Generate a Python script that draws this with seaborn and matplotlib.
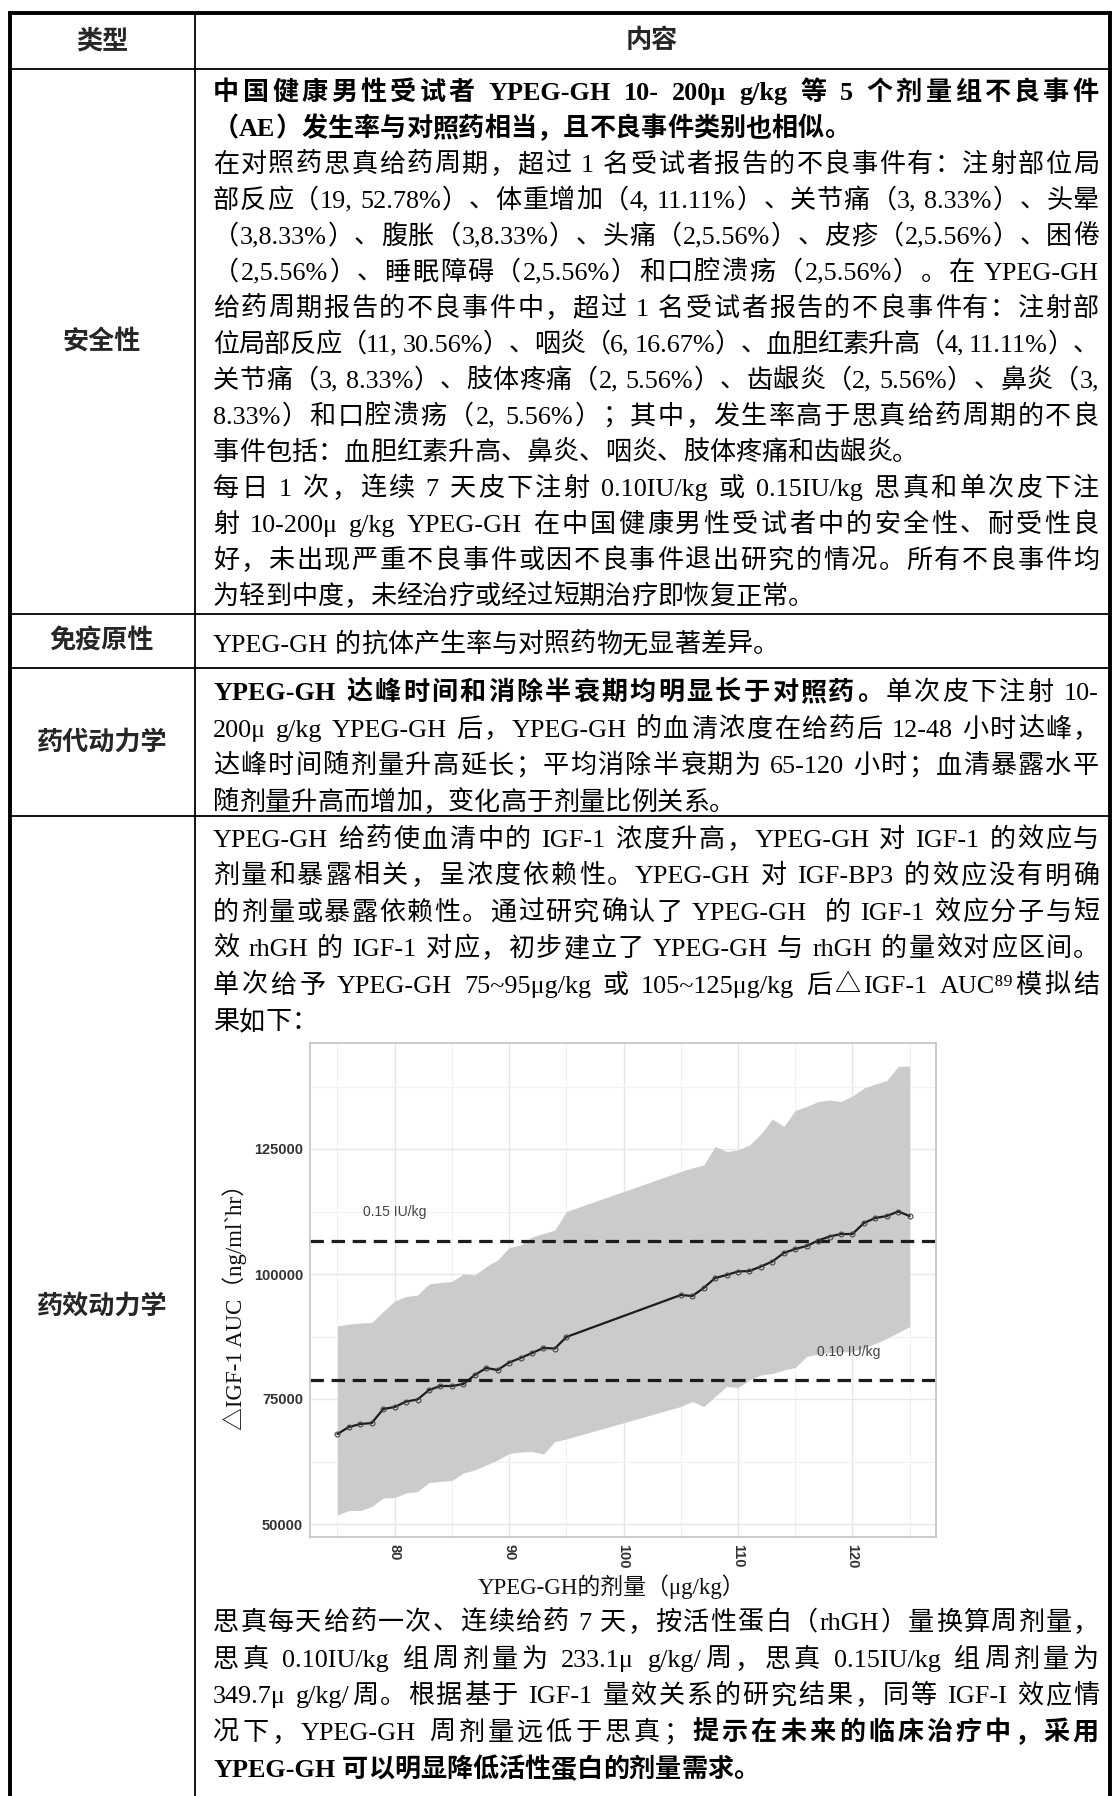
import re
import matplotlib
matplotlib.use("Agg")
import matplotlib.pyplot as plt
from matplotlib.font_manager import FontProperties
import seaborn as sns

# ---- 图表数据 ----
dose = [75, 76, 77, 78, 79, 80, 81, 82, 83, 84, 85, 86, 87, 88, 89, 90, 91, 92, 93, 94, 95,
        105, 106, 107, 108, 109, 110, 111, 112, 113, 114, 115, 116, 117, 118, 119, 120, 121, 122, 123, 124, 125]
auc_mean = [68000, 69400, 70000, 70200, 73000, 73400, 74500, 74900, 76800, 77600, 77600,
            78000, 79800, 81200, 80800, 82300, 83200, 84200, 85200, 85100, 87400,
            95800, 95600, 97200, 99200, 99800, 100500, 100600, 101500, 102500, 104200,
            105000, 105600, 106700, 107500, 108000, 108000, 110200, 111200, 111600, 112500, 111600]
auc_low = [51800, 52700, 52700, 53500, 55200, 55300, 56200, 56500, 58300, 58500, 58700,
           60200, 60800, 61800, 62800, 64100, 64400, 64500, 64000, 66500, 67000,
           73500, 74500, 73500, 75500, 77500, 77300, 78800, 79800, 80100, 80800,
           81300, 83500, 84000, 84300, 84400, 84500, 85200, 86100, 87100, 88300, 89500]
auc_high = [89600, 90000, 90200, 90300, 92500, 94600, 95500, 95800, 98000, 98300, 98500,
            100000, 99800, 101500, 102800, 105300, 105800, 107400, 108100, 108800, 112500,
            120500, 121200, 121800, 125500, 124500, 124800, 125800, 128000, 131000, 129500,
            132700, 133500, 134500, 134800, 134500, 135600, 137200, 138000, 138700, 141500, 141600]
ref_levels = [106600, 78800]
ref_labels = ['0.15 IU/kg', '0.10 IU/kg']
x_ticks = [80, 90, 100, 110, 120]
x_minor = [75, 85, 95, 105, 115, 125]
y_ticks = [50000, 75000, 100000, 125000]
y_minor = [62500, 87500, 112500, 137500]
x_label = 'YPEG-GH的剂量（μg/kg）'
y_label = '△IGF-1 AUC（ng/ml`hr）'

# ---- 表格文字 ----
header = ['类型', '内容']
row_labels = ['安全性', '免疫原性', '药代动力学', '药效动力学']

# 每段为若干行，** 切换粗体；段落最后一行不两端对齐
safety = [
    ['**中国健康男性受试者 YPEG-GH 10- 200μ g/kg 等 5 个剂量组不良事件**',
     '**（AE）发生率与对照药相当，且不良事件类别也相似。**'],
    ['在对照药思真给药周期，超过 1 名受试者报告的不良事件有：注射部位局',
     '部反应（19, 52.78%）、体重增加（4, 11.11%）、关节痛（3, 8.33%）、头晕',
     '（3,8.33%）、腹胀（3,8.33%）、头痛（2,5.56%）、皮疹（2,5.56%）、困倦',
     '（2,5.56%）、睡眠障碍（2,5.56%）和口腔溃疡（2,5.56%）。在 YPEG-GH',
     '给药周期报告的不良事件中，超过 1 名受试者报告的不良事件有：注射部',
     '位局部反应（11, 30.56%）、咽炎（6, 16.67%）、血胆红素升高（4, 11.11%）、',
     '关节痛（3, 8.33%）、肢体疼痛（2, 5.56%）、齿龈炎（2, 5.56%）、鼻炎（3,',
     '8.33%）和口腔溃疡（2, 5.56%）；其中，发生率高于思真给药周期的不良',
     '事件包括：血胆红素升高、鼻炎、咽炎、肢体疼痛和齿龈炎。'],
    ['每日 1 次，连续 7 天皮下注射 0.10IU/kg 或 0.15IU/kg 思真和单次皮下注',
     '射 10-200μ g/kg YPEG-GH 在中国健康男性受试者中的安全性、耐受性良',
     '好，未出现严重不良事件或因不良事件退出研究的情况。所有不良事件均',
     '为轻到中度，未经治疗或经过短期治疗即恢复正常。'],
]
immuno = [['YPEG-GH 的抗体产生率与对照药物无显著差异。']]
pk = [
    ['**YPEG-GH 达峰时间和消除半衰期均明显长于对照药。**单次皮下注射 10-',
     '200μ g/kg YPEG-GH 后，YPEG-GH 的血清浓度在给药后 12-48 小时达峰，',
     '达峰时间随剂量升高延长；平均消除半衰期为 65-120 小时；血清暴露水平',
     '随剂量升高而增加，变化高于剂量比例关系。'],
]
pd_top = [
    ['YPEG-GH 给药使血清中的 IGF-1 浓度升高，YPEG-GH 对 IGF-1 的效应与',
     '剂量和暴露相关，呈浓度依赖性。YPEG-GH 对 IGF-BP3 的效应没有明确',
     '的剂量或暴露依赖性。通过研究确认了 YPEG-GH  的 IGF-1 效应分子与短',
     '效 rhGH 的 IGF-1 对应，初步建立了 YPEG-GH 与 rhGH 的量效对应区间。',
     '单次给予 YPEG-GH 75~95μg/kg 或 105~125μg/kg 后△IGF-1 AUC⁸⁹模拟结',
     '果如下：'],
]
pd_bottom = [
    ['思真每天给药一次、连续给药 7 天，按活性蛋白（rhGH）量换算周剂量，',
     '思真 0.10IU/kg 组周剂量为 233.1μ g/kg/周，思真 0.15IU/kg 组周剂量为',
     '349.7μ g/kg/周。根据基于 IGF-1 量效关系的研究结果，同等 IGF-I 效应情',
     '况下，YPEG-GH 周剂量远低于思真；**提示在未来的临床治疗中，采用**',
     '**YPEG-GH 可以明显降低活性蛋白的剂量需求。**'],
]

# ---- 画布 ----
W, H, DPI = 1115, 1796, 100
FS = 18.8
sns.set_style('white')
FAMS = ['Liberation Serif', 'Noto Sans CJK SC', 'DejaVu Sans']
plt.rcParams['font.family'] = FAMS

fig = plt.figure(figsize=(W / DPI, H / DPI), dpi=DPI)
page = fig.add_axes([0, 0, 1, 1])
page.set_xlim(0, W)
page.set_ylim(H, 0)
page.set_axis_off()
renderer = fig.canvas.get_renderer()

P_REG = FontProperties(family=FAMS, size=FS)
P_BOLD = FontProperties(family=FAMS, size=FS, weight='bold')
P_LABEL = FontProperties(family=['Noto Sans CJK SC'], size=FS, weight='bold')

X0, X1 = 213, 1099
EM = FS * DPI / 72
BASE = 0.38 * EM
TOK = re.compile(r"[A-Za-z0-9.,%/\-~μ`⁸⁹]+| |.")


def text_w(s, prop):
    return renderer.get_text_width_height_descent(s, prop, ismath=False)[0]


def advance(tok, prop):
    return text_w('|' + tok + '|', prop) - text_w('||', prop)


def draw_line(line, y, justify):
    toks = []
    for k, seg in enumerate(line.split('**')):
        prop = P_BOLD if k % 2 else P_REG
        toks += [(t, prop) for t in TOK.findall(seg)]
    adv = [advance(t, p) for t, p in toks]
    extra = 0
    if justify and len(toks) > 1:
        extra = (X1 - X0 - sum(adv)) / (len(toks) - 1)
    x = X0
    for (t, p), a in zip(toks, adv):
        if t != ' ':
            page.text(x, y + BASE, t, fontproperties=p, ha='left', va='baseline', color='#000')
        x += a + extra


def draw_block(paras, y0, step):
    y = y0
    for para in paras:
        for i, line in enumerate(para):
            draw_line(line, y, i < len(para) - 1)
            y += step


draw_block(safety, 90, 36.0)
draw_block(immuno, 642, 36.6)
draw_block(pk, 690, 36.6)
draw_block(pd_top, 837, 36.4)
draw_block(pd_bottom, 1620, 36.7)

# 表格线
outer, inner = 2.8, 1.3
page.plot([10, 1110], [13, 13], color='k', lw=outer, solid_capstyle='projecting')
page.plot([10, 10], [13, H + 5], color='k', lw=outer)
page.plot([1110, 1110], [13, H + 5], color='k', lw=outer)
page.plot([195, 195], [13, H + 5], color='k', lw=inner)
for yy in [69, 614, 668, 816]:
    page.plot([10, 1110], [yy, yy], color='k', lw=inner)

# 表头与左列
page.text(102, 41, header[0], fontproperties=P_LABEL, ha='center', va='center')
page.text(652, 41, header[1], fontproperties=P_LABEL, ha='center', va='center')
for lab, yy in zip(row_labels, [341, 641, 742, 1306]):
    page.text(102, yy, lab, fontproperties=P_LABEL, ha='center', va='center')

# ---- 嵌入的图 ----
ax = fig.add_axes([310 / W, 1 - 1537 / H, 626 / W, 494 / H])
ax.set_facecolor('white')
ax.fill_between(dose, auc_low, auc_high, color='#cbcbcb', linewidth=0, zorder=1)
sns.lineplot(x=dose, y=auc_mean, ax=ax, color='#1c1c1c', linewidth=1.6, marker='o',
             markersize=3.5, markerfacecolor='none', markeredgecolor='#444',
             markeredgewidth=0.8, zorder=3)
for lvl in ref_levels:
    ax.axhline(lvl, color='#1c1c1c', linewidth=2.3, linestyle=(0, (4.2, 2.4)), zorder=2)
ax.text(80, 112400, ref_labels[0], ha='center', va='center', fontsize=10,
        color='#444', family='Liberation Sans')
ax.text(119.7, 84400, ref_labels[1], ha='center', va='center', fontsize=10,
        color='#444', family='Liberation Sans')

ax.set_xlim(72.6, 127.3)
ax.set_ylim(47400, 146200)
ax.set_xticks(x_ticks)
ax.set_xticks(x_minor, minor=True)
ax.set_yticks(y_ticks)
ax.set_yticks(y_minor, minor=True)
ax.set_xticklabels([str(v) for v in x_ticks])
ax.set_yticklabels([str(v) for v in y_ticks])
ax.set_axisbelow(True)
ax.grid(which='major', color='#e6e6e6', linewidth=1.0)
ax.grid(which='minor', color='#f1f1f1', linewidth=0.8)
ax.tick_params(which='major', length=3, width=0.8, color='#444', labelsize=10.5,
               labelcolor='#333', pad=2)
ax.tick_params(which='minor', length=0)
ax.tick_params(axis='x', labelrotation=-90)
for lbl in ax.get_xticklabels() + ax.get_yticklabels():
    lbl.set_fontfamily('Liberation Sans')
    lbl.set_fontweight('bold')
for s in ax.spines.values():
    s.set_color('#c4c4c4')
    s.set_linewidth(1.2)

ax.set_xlabel(x_label, fontsize=16.5, family=FAMS, color='#111')
ax.set_ylabel(y_label, fontsize=16.5, family=FAMS, color='#111')
ax.xaxis.label.set_va('center')
ax.yaxis.label.set_va('center')
ax.xaxis.set_label_coords((612 - 310) / 626, (1537 - 1587) / 494)
ax.yaxis.set_label_coords((235 - 310) / 626, (1537 - 1302) / 494)

fig.savefig('out.png', dpi=DPI)
